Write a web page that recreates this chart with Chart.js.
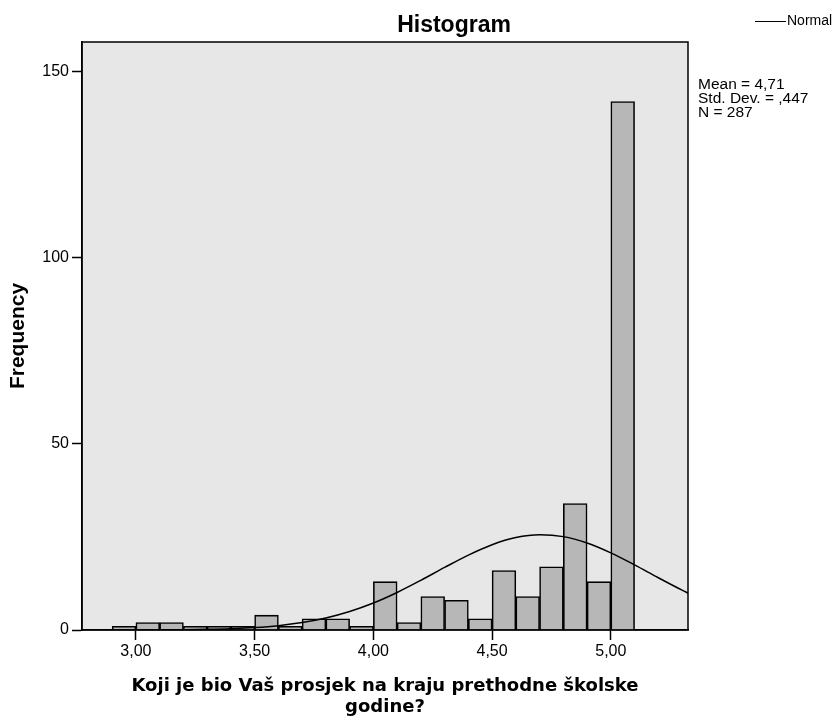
<!DOCTYPE html>
<html>
<head>
<meta charset="utf-8">
<title>Histogram</title>
<script src="https://cdn.jsdelivr.net/npm/chart.js@4.4.1/dist/chart.umd.min.js"></script>
<style>
  body { margin: 0; background: #fff; }
  #wrap { position: relative; width: 838px; height: 718px; font-family: "Liberation Sans", Arial, sans-serif; color: #000; }
  #myChart { position: absolute; left: 0; top: 0; }
  #title { position: absolute; left: 354px; width: 200px; top: 10px; text-align: center; font-weight: bold; font-size: 23px; line-height: 28px; }
  #legend { position: absolute; left: 755px; top: 11px; font-size: 14px; line-height: 18px; white-space: nowrap; }
  #legend .ln { display: inline-block; width: 31px; border-top: 1.5px solid #000; vertical-align: middle; margin-right: 1px; }
  #stats { position: absolute; left: 698px; top: 77px; font-size: 15.5px; line-height: 14px; white-space: nowrap; }
</style>
</head>
<body>
<div id="wrap">
  <canvas id="myChart" width="838" height="718"></canvas>
  <div id="title">Histogram</div>
  <div id="legend"><span class="ln"></span>Normal</div>
  <div id="stats"></div>
</div>
<script>
// bins are 0,1 wide, start value of each bin
let binStart = [2.9, 3.0, 3.1, 3.2, 3.3, 3.4, 3.5, 3.6, 3.7, 3.8, 3.9,
                4.0, 4.1, 4.2, 4.3, 4.4, 4.5, 4.6, 4.7, 4.8, 4.9, 5.0];
let frequency = [1, 2, 2, 1, 1, 1, 4, 1, 3, 3, 1,
                 13, 2, 9, 8, 3, 16, 9, 17, 34, 13, 142];

// normal curve
let normalX = [2.77, 2.9, 3.0, 3.1, 3.2, 3.3, 3.4, 3.5, 3.6, 3.7, 3.8, 3.9, 4.0, 4.1, 4.2,
               4.3, 4.4, 4.5, 4.6, 4.7, 4.8, 4.9, 5.0, 5.1, 5.2, 5.3, 5.33];
let normalY = [0, 0.01, 0.02, 0.04, 0.09, 0.18, 0.35, 0.66, 1.17, 1.99, 3.22, 4.96, 7.25, 10.09, 13.35,
               16.81, 20.13, 22.92, 24.84, 25.59, 25.09, 23.39, 20.74, 17.5, 14.04, 10.71, 9.78];

let xTicks = [3.0, 3.5, 4.0, 4.5, 5.0];
let yTicks = [0, 50, 100, 150];

let statsLines = ["Mean = 4,71", "Std. Dev. = ,447", "N = 287"];
document.getElementById("stats").innerHTML = statsLines.join("<br>");

let barData = binStart.map(function (s, i) { return { x: s + 0.05, y: frequency[i] }; });
let curveData = normalX.map(function (x, i) { return { x: x, y: normalY[i] }; });

let plotBox = {
  id: "plotBox",
  beforeDraw: function (chart) {
    let a = chart.chartArea;
    let ctx = chart.ctx;
    ctx.save();
    ctx.fillStyle = "#e7e7e7";
    ctx.fillRect(a.left, a.top, a.right - a.left, a.bottom - a.top);
    ctx.restore();
  },
  afterDraw: function (chart) {
    let a = chart.chartArea;
    let ctx = chart.ctx;
    ctx.save();
    ctx.strokeStyle = "#000";
    ctx.lineWidth = 1.5;
    ctx.strokeRect(a.left, a.top, a.right - a.left, a.bottom - a.top);
    ctx.restore();
  }
};

let tickFont = { family: "Liberation Sans", size: 16 };

new Chart("myChart", {
  type: "bar",
  data: {
    datasets: [{
      type: "line",
      label: "Normal",
      data: curveData,
      borderColor: "#000",
      borderWidth: 1.5,
      pointRadius: 0,
      cubicInterpolationMode: "monotone",
      fill: false,
      order: 0
    }, {
      type: "bar",
      label: "Frequency",
      data: barData,
      backgroundColor: "#b7b7b7",
      borderColor: "#000",
      borderWidth: 1.6,
      barPercentage: 1,
      categoryPercentage: 1,
      order: 1
    }]
  },
  options: {
    responsive: false,
    animation: false,
    devicePixelRatio: 1,
    layout: { padding: { left: 6, right: 150, top: 42, bottom: 0 } },
    plugins: {
      legend: { display: false },
      tooltip: { enabled: false }
    },
    scales: {
      x: {
        type: "linear",
        min: 2.773,
        max: 5.325,
        offset: false,
        afterBuildTicks: function (s) { s.ticks = xTicks.map(function (v) { return { value: v }; }); },
        afterFit: function (s) { s.height = 88; },
        ticks: {
          color: "#000",
          font: tickFont,
          padding: 2,
          maxRotation: 0,
          autoSkip: false,
          callback: function (v) { return v.toFixed(2).replace(".", ","); }
        },
        grid: { offset: false, drawOnChartArea: false, drawTicks: true, tickLength: 10, tickWidth: 1.5, tickColor: "#000" },
        border: { display: true, color: "#000", width: 1.5 },
        title: {
          display: true,
          text: ["Koji je bio Vaš prosjek na kraju prethodne školske", "godine?"],
          color: "#000",
          font: { family: "DejaVu Sans", weight: "bold", size: 18, lineHeight: 1.17 },
          padding: 0
        }
      },
      y: {
        min: 0,
        max: 158,
        afterBuildTicks: function (s) { s.ticks = yTicks.map(function (v) { return { value: v }; }); },
        afterFit: function (s) { s.width = 76; },
        ticks: { color: "#000", font: tickFont, padding: 3 },
        grid: { drawOnChartArea: false, drawTicks: true, tickLength: 10, tickWidth: 1.5, tickColor: "#000" },
        border: { display: true, color: "#000", width: 1.5 },
        title: {
          display: true,
          text: "Frequency",
          color: "#000",
          font: { family: "Liberation Sans", weight: "bold", size: 21, lineHeight: 1.2 },
          padding: 0
        }
      }
    }
  },
  plugins: [plotBox]
});
</script>
</body>
</html>
